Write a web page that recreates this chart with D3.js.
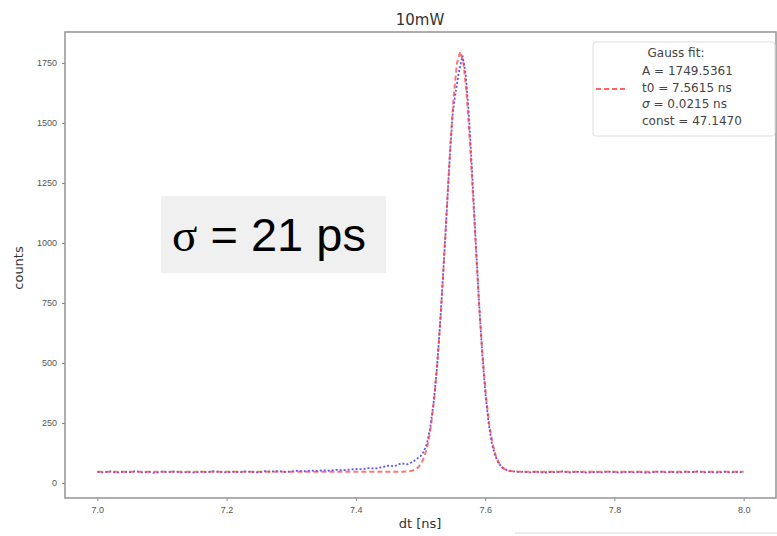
<!DOCTYPE html>
<html><head><meta charset="utf-8">
<script src="https://cdn.jsdelivr.net/npm/d3@7"></script>
<style>body{margin:0;background:#fff;} svg{display:block;font-family:"DejaVu Sans",sans-serif;}</style>
</head><body>
<script>
// ---- data ----
const dataT = [7.00,7.01,7.02,7.03,7.04,7.05,7.06,7.07,7.08,7.09,7.10,7.11,7.12,7.13,7.14,7.15,7.16,7.17,7.18,7.19,7.20,7.21,7.22,7.23,7.24,7.25,7.26,7.27,7.28,7.29,7.30,7.31,7.32,7.33,7.34,7.35,7.36,7.37,7.38,7.39,7.40,7.41,7.42,7.43,7.44,7.45,7.46,7.47,7.48,7.49,7.50,7.505,7.510,7.515,7.520,7.525,7.530,7.535,7.540,7.545,7.550,7.555,7.560,7.565,7.570,7.575,7.580,7.585,7.590,7.595,7.600,7.605,7.610,7.615,7.620,7.625,7.630,7.635,7.640,7.645,7.65,7.66,7.67,7.68,7.69,7.70,7.71,7.72,7.73,7.74,7.75,7.76,7.77,7.78,7.79,7.80,7.81,7.82,7.83,7.84,7.85,7.86,7.87,7.88,7.89,7.90,7.91,7.92,7.93,7.94,7.95,7.96,7.97,7.98,7.99,8.00];
const dataCounts = [46,44,48,43,47,45,49,44,46,42,47,45,48,44,46,43,47,45,49,46,44,47,45,48,46,44,49,47,50,46,48,51,49,52,50,53,51,55,53,56,58,57,62,60,66,72,70,82,78,92,112,130,165,230,330,465,650,870,1100,1345,1545,1640,1720,1780,1700,1530,1290,1030,780,560,385,255,170,118,86,68,58,53,50,48,47,46,44,47,43,46,45,48,44,47,45,43,46,44,48,45,43,47,44,46,42,45,48,44,46,43,47,45,49,44,46,43,47,44,46,45];
const fitT = [7.0,7.1,7.2,7.3,7.4,7.4515,7.4715,7.4815,7.4865,7.4915,7.4965,7.5015,7.5065,7.5115,7.5165,7.5215,7.5265,7.5315,7.5365,7.5415,7.5465,7.5515,7.5565,7.5615,7.5665,7.5715,7.5765,7.5815,7.5865,7.5915,7.5965,7.6015,7.6065,7.6115,7.6165,7.6215,7.6265,7.6315,7.6365,7.6415,7.6515,7.6715,7.7,7.8,7.9,8.0];
const fitCounts = [47.1,47.1,47.1,47.1,47.1,47.2,47.3,48.9,51,56,65,83,113,164,243,357,512,708,937,1182,1419,1617,1750,1797,1750,1617,1419,1182,937,708,512,357,243,164,113,83,65,56,51,48.9,47.3,47.2,47.1,47.1,47.1,47.1];
const xTicks = [7.0,7.2,7.4,7.6,7.8,8.0];
const yTicks = [0,250,500,750,1000,1250,1500,1750];
const legendLines = [["A = 1749.5361"],["t0 = 7.5615 ns"],["σ", " = 0.0215 ns"],["const = 47.1470"]];

// ---- layout ----
const W = 777, H = 536;
const L = 65, R = 776, T = 32, B = 498;
const svg = d3.select("body").append("svg").attr("width", W).attr("height", H);

const x = d3.scaleLinear().domain([6.95, 8.05]).range([L, R]);
const y = d3.scaleLinear().domain([-62.5, 1879]).range([B, T]);

// axes
const gx = svg.append("g").attr("transform", `translate(0,${B})`)
  .call(d3.axisBottom(x).tickValues(xTicks).tickFormat(d3.format(".1f")).tickSize(3).tickPadding(6));
const gy = svg.append("g").attr("transform", `translate(${L},0)`)
  .call(d3.axisLeft(y).tickValues(yTicks).tickFormat(d3.format("d")).tickSize(3).tickPadding(5));
[gx, gy].forEach(g => {
  g.select(".domain").remove();
  g.selectAll(".tick line").attr("stroke", "#888");
  g.selectAll(".tick text").attr("fill", "#555").style("font-size", "9px");
});

// frame
svg.append("rect").attr("x", L).attr("y", T).attr("width", R - L).attr("height", B - T)
  .attr("fill", "none").attr("stroke", "#9a9a9a").attr("stroke-width", 1.6);

// lines
const lineData = d3.line().x((d, i) => x(dataT[i])).y(d => y(d));
svg.append("path").datum(dataCounts).attr("d", lineData)
  .attr("fill", "none").attr("stroke", "#3a3aff").attr("stroke-width", 1.8)
  .attr("stroke-dasharray", "2,2").attr("opacity", 0.85);
const lineFit = d3.line().x((d, i) => x(fitT[i])).y(d => y(d));
svg.append("path").datum(fitCounts).attr("d", lineFit)
  .attr("fill", "none").attr("stroke", "#ff3b3b").attr("stroke-width", 2)
  .attr("stroke-dasharray", "5,3").attr("opacity", 0.7);

// title and labels
svg.append("text").attr("x", 420).attr("y", 25).attr("text-anchor", "middle")
  .style("font-size", "15px").attr("fill", "#333").text("10mW");
svg.append("text").attr("x", 420).attr("y", 528).attr("text-anchor", "middle")
  .style("font-size", "13px").attr("fill", "#333").text("dt [ns]");
svg.append("text").attr("transform", "translate(23,268) rotate(-90)").attr("text-anchor", "middle")
  .style("font-size", "13px").attr("fill", "#333").text("counts");

// legend
const lg = svg.append("g");
lg.append("rect").attr("x", 593).attr("y", 42).attr("width", 182).attr("height", 94).attr("rx", 3)
  .attr("fill", "#fff").attr("stroke", "#ddd");
lg.append("text").attr("x", 676).attr("y", 57).attr("text-anchor", "middle")
  .style("font-size", "12px").attr("fill", "#444").text("Gauss fit:");
legendLines.forEach((parts, i) => {
  const t = lg.append("text").attr("x", 642).attr("y", 75 + i * 16.5)
    .style("font-size", "12px").attr("fill", "#444");
  if (parts.length === 2) {
    t.append("tspan").style("font-style", "italic").text(parts[0]);
    t.append("tspan").text(parts[1]);
  } else t.text(parts[0]);
});
lg.append("line").attr("x1", 596).attr("x2", 626).attr("y1", 89).attr("y2", 89)
  .attr("stroke", "#ff3b3b").attr("stroke-width", 2).attr("stroke-dasharray", "5,3").attr("opacity", 0.8);

// sigma annotation
svg.append("rect").attr("x", 161).attr("y", 196).attr("width", 225).attr("height", 77).attr("fill", "#f0f0f0");
const st = svg.append("text").attr("x", 172).attr("y", 251).style("font-size", "47px").attr("fill", "#000");
st.append("tspan").style("font-family", "'Liberation Serif','DejaVu Serif',serif").text("σ");
st.append("tspan").style("font-family", "'Liberation Sans',Arial,sans-serif").text(" = 21 ps");

// faint screenshot edge line
svg.append("line").attr("x1", 515).attr("x2", 777).attr("y1", 533).attr("y2", 533)
  .attr("stroke", "#e4e4e4").attr("stroke-width", 1.5);
</script>
</body></html>
